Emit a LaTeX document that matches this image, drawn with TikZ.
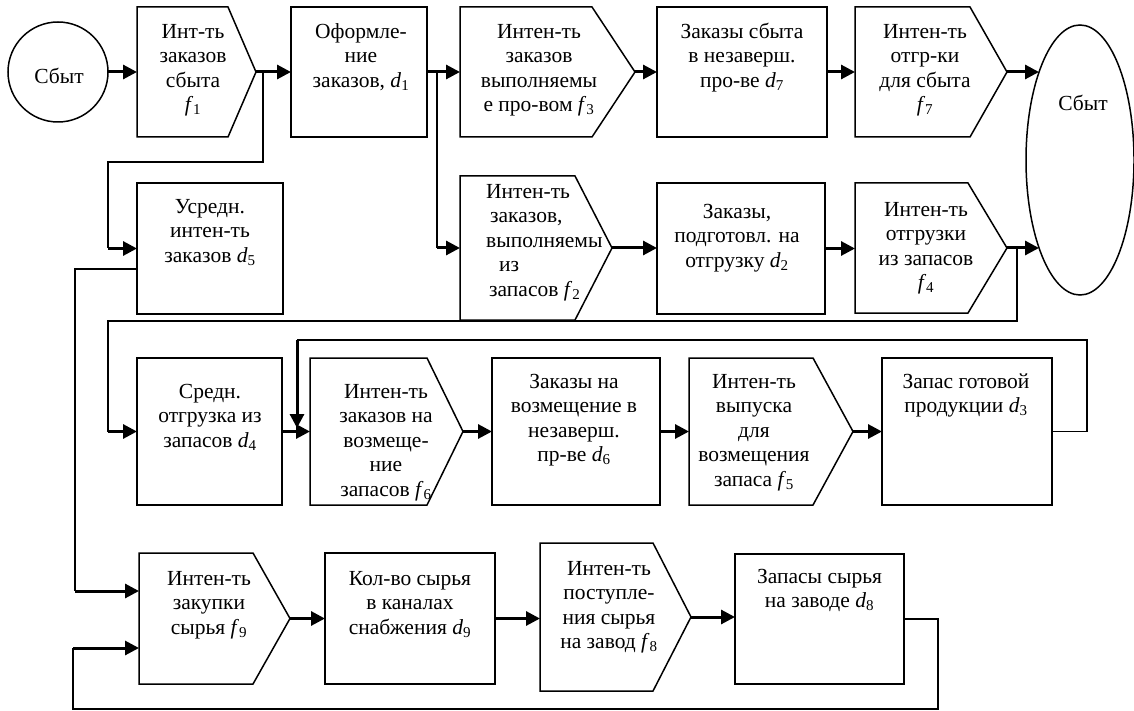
\documentclass[tikz,border=0pt]{standalone}
\usepackage{fontspec}
\setmainfont{Liberation Serif}
\usetikzlibrary{arrows.meta,shapes.geometric}
\newcommand{\vv}[2]{\textit{#1}\textsubscript{#2}}
\newcommand{\fl}{\rule{0pt}{16pt}}
\tikzset{
  blk/.style={draw, line width=1.5pt, inner sep=0pt, outer sep=0pt},
  body/.style={inner sep=0pt, outer sep=0pt},
  pentline/.style={draw, line width=1.5pt, line join=miter},
  txt/.style={anchor=north, inner sep=0pt, align=center, font=\fontsize{21.5}{24.5}\selectfont},
  flow/.style={line width=3pt, -{Triangle[length=14pt,width=14pt]}},
  link/.style={line width=1.5pt},
}
\newcommand{\pentshape}[1]{\draw[pentline] (#1.north west) -- (#1.north east) -- (#1-tip) -- (#1.south east) -- (#1.south west) -- cycle;}
\begin{document}
\begin{tikzpicture}[x=1pt,y=-1pt]
\useasboundingbox (0,0) rectangle (1134,711);

% ---------- row 1 ----------
\node[blk, circle, minimum size=100pt] (s1) at (58,72) {};
\node[txt] (s1t) at (59,67) {\fl Сбыт};

\node[body, minimum width=91pt, minimum height=130pt] (f1) at (182.5,72) {};
\coordinate (f1-tip) at ([xshift=28pt]f1.east);
\pentshape{f1}
\node[txt] (f1t) at (193,22) {\fl Инт-ть\\заказов\\сбыта\\\vv{f}{1}};

\node[blk, minimum width=136pt, minimum height=130pt] (d1) at (359,72) {};
\node[txt] (d1t) at (361,22) {\fl Оформле-\\ние\\заказов, \vv{d}{1}};

\node[body, minimum width=132pt, minimum height=130pt] (f3) at (526,72) {};
\coordinate (f3-tip) at ([xshift=43pt]f3.east);
\pentshape{f3}
\node[txt] (f3t) at (539,22) {\fl Интен-ть\\заказов\\выполняемы\\е про-вом \vv{f}{3}};

\node[blk, minimum width=170pt, minimum height=130pt] (d7) at (742,72) {};
\node[txt] (d7t) at (742,22) {\fl Заказы сбыта\\в незаверш.\\про-ве \vv{d}{7}};

\node[body, minimum width=115pt, minimum height=130pt] (f7) at (912.5,72) {};
\coordinate (f7-tip) at ([xshift=37pt]f7.east);
\pentshape{f7}
\node[txt] (f7t) at (925,22) {\fl Интен-ть\\отгр-ки\\для сбыта\\\vv{f}{7}};

\node[blk, ellipse, minimum width=108pt, minimum height=270pt] (s2) at (1080,160) {};
\node[txt] (s2t) at (1083,94) {\fl Сбыт};

% ---------- row 2 ----------
\node[blk, minimum width=146pt, minimum height=131pt] (d5) at (210,248.5) {};
\node[txt] (d5t) at (210,197) {\fl Усредн.\\интен-ть\\заказов \vv{d}{5}};

\node[body, minimum width=115pt, minimum height=144pt] (f2) at (517.5,248) {};
\coordinate (f2-tip) at ([xshift=37pt]f2.east);
\pentshape{f2}
\node[txt, anchor=north west, align=left] (f2t) at (486,182) {\fl Интен-ть\\\hspace*{4pt}заказов,\\выполняемы\\\hspace*{13pt}из\\\hspace*{3pt}запасов \vv{f}{2}};

\node[blk, minimum width=168pt, minimum height=131pt] (d2) at (741,248.5) {};
\node[txt] (d2t) at (737,202) {\fl Заказы,\\подготовл. на\\отгрузку \vv{d}{2}};

\node[body, minimum width=113pt, minimum height=130pt] (f4) at (911.5,248) {};
\coordinate (f4-tip) at ([xshift=39pt]f4.east);
\pentshape{f4}
\node[txt] (f4t) at (926,200) {\fl Интен-ть\\отгрузки\\из запасов\\\vv{f}{4}};

% ---------- row 3 ----------
\node[blk, minimum width=145pt, minimum height=147pt] (d4) at (209.5,431.5) {};
\node[txt] (d4t) at (210,382) {\fl Средн.\\отгрузка из\\запасов \vv{d}{4}};

\node[body, minimum width=117pt, minimum height=147pt] (f6) at (368.5,431.5) {};
\coordinate (f6-tip) at ([xshift=36pt]f6.east);
\pentshape{f6}
\node[txt] (f6t) at (386,382) {\fl Интен-ть\\заказов на\\возмеще-\\ние\\запасов \vv{f}{6}};

\node[blk, minimum width=168pt, minimum height=147pt] (d6) at (576,431.5) {};
\node[txt] (d6t) at (574,372) {\fl Заказы на\\возмещение в\\незаверш.\\пр-ве \vv{d}{6}};

\node[body, minimum width=124pt, minimum height=147pt] (f5) at (751,431.5) {};
\coordinate (f5-tip) at ([xshift=40pt]f5.east);
\pentshape{f5}
\node[txt] (f5t) at (754,372) {\fl Интен-ть\\выпуска\\для\\возмещения\\запаса \vv{f}{5}};

\node[blk, minimum width=170pt, minimum height=147pt] (d3) at (967,431.5) {};
\node[txt] (d3t) at (966,372) {\fl Запас готовой\\продукции \vv{d}{3}};

% ---------- row 4 ----------
\node[body, minimum width=114pt, minimum height=131pt] (f9) at (196,618.5) {};
\coordinate (f9-tip) at ([xshift=37pt]f9.east);
\pentshape{f9}
\node[txt] (f9t) at (209,569) {\fl Интен-ть\\закупки\\сырья \vv{f}{9}};

\node[blk, minimum width=170pt, minimum height=131pt] (d9) at (410,618.5) {};
\node[txt] (d9t) at (410,569) {\fl Кол-во сырья\\в каналах\\снабжения \vv{d}{9}};

\node[body, minimum width=113pt, minimum height=148pt] (f8) at (596.5,617) {};
\coordinate (f8-tip) at ([xshift=38pt]f8.east);
\pentshape{f8}
\node[txt] (f8t) at (609,559) {\fl Интен-ть\\поступле-\\ния сырья\\на завод \vv{f}{8}};

\node[blk, minimum width=169pt, minimum height=130pt] (d8) at (819.5,619) {};
\node[txt] (d8t) at (819.5,567) {\fl Запасы сырья\\на заводе \vv{d}{8}};

% ---------- connectors ----------
\coordinate (j1) at (263,72);
\coordinate (k1) at (108,248.5);
\coordinate (j2) at (437,72);
\coordinate (k2) at (437,248);
\coordinate (j3) at (1017,248);
\coordinate (k3) at (108,431.5);
\coordinate (m1) at (137,269);
\coordinate (k4) at (75,591);
\coordinate (k5) at (297,340);
\coordinate (k5e) at (297,428);
\coordinate (c6) at (938,709);
\coordinate (k6) at (73,648);

\draw[flow] (s1.east) -- (f1.west);
\draw[flow] (f1-tip) -- (d1.west);
\draw[link] (j1) -- ++(0,90) -| (k1);
\draw[flow] (k1) -- (d5.west);
\draw[flow] (d1.east) -- (f3.west);
\draw[link] (j2) -- (k2);
\draw[flow] (k2) -- (k2 -| f2.west);
\draw[flow] (f3-tip) -- (d7.west);
\draw[flow] (d7.east) -- (f7.west);
\draw[flow] (f7-tip) -- (f7-tip -| s2.115);

\draw[flow] (f2-tip) -- (f2-tip -| d2.west);
\draw[flow] (d2.east) -- (d2.east -| f4.west);
\draw[flow] (f4-tip) -- (f4-tip -| s2.245);
\draw[link] (j3) -- ++(0,73) -| (k3);
\draw[flow] (k3) -- (d4.west);
\draw[link] (m1) -| (k4);
\draw[flow] (k4) -- (k4 -| f9.west);

\draw[flow] (d4.east) -- (f6.west);
\draw[flow] (f6-tip) -- (d6.west);
\draw[flow] (d6.east) -- (f5.west);
\draw[flow] (f5-tip) -- (d3.west);
\draw[link] (d3.east) -- ++(35,0) |- (k5);
\draw[flow] (k5) -- (k5e);

\draw[flow] (f9-tip) -- (f9-tip -| d9.west);
\draw[flow] (d9.east) -- (d9.east -| f8.west);
\draw[flow] (f8-tip) -- (f8-tip -| d8.west);
\draw[link] (d8.east) -| (c6) -| (k6);
\draw[flow] (k6) -- (k6 -| f9.west);
\end{tikzpicture}
\end{document}
